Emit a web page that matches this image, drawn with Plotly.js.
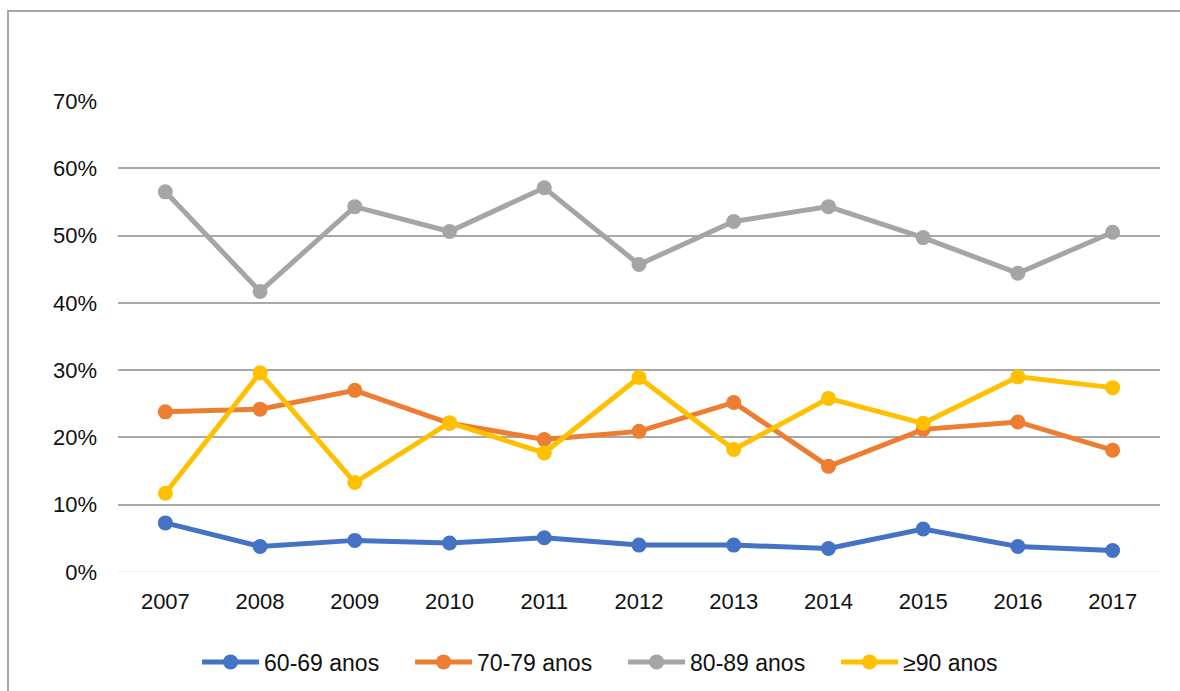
<!DOCTYPE html>
<html>
<head>
<meta charset="utf-8">
<script src="https://cdn.plot.ly/plotly-3.0.1.min.js"></script>
<style>
  html, body { margin: 0; padding: 0; background: #ffffff; }
  #wrap { position: relative; width: 1180px; height: 691px; overflow: hidden; }
  #frame { position: absolute; left: 7px; top: 10px; width: 1200px; height: 700px;
           border-left: 2px solid #a6a6a6; border-top: 2px solid #a6a6a6; pointer-events: none; }
  #chart { position: absolute; left: 0; top: 0; width: 1180px; height: 691px; }
</style>
</head>
<body>
<div id="wrap">
  <div id="chart"></div>
  <div id="frame"></div>
</div>
<script>
// Years on the category axis
const years = ['2007', '2008', '2009', '2010', '2011', '2012', '2013', '2014', '2015', '2016', '2017'];

// Share by age group (fraction of total)
const grp6069 = [0.073, 0.038, 0.047, 0.043, 0.051, 0.040, 0.040, 0.035, 0.064, 0.038, 0.032];
const grp7079 = [0.238, 0.242, 0.270, 0.221, 0.197, 0.209, 0.252, 0.157, 0.212, 0.223, 0.181];
const grp8089 = [0.565, 0.417, 0.543, 0.506, 0.571, 0.457, 0.521, 0.543, 0.497, 0.444, 0.505];
const grp90 =   [0.117, 0.296, 0.133, 0.222, 0.177, 0.289, 0.182, 0.258, 0.221, 0.290, 0.274];

const names = ['60-69 anos', '70-79 anos', '80-89 anos', '≥90 anos'];
const colors = ['#4472C4', '#ED7D31', '#A5A5A5', '#FFC000'];
const series = [grp6069, grp7079, grp8089, grp90];

const traces = series.map((vals, i) => ({
  type: 'scatter',
  mode: 'lines+markers',
  name: names[i],
  x: years,
  y: vals,
  line: { color: colors[i], width: 5 },
  marker: { color: colors[i], size: 15 },
  hoverinfo: 'x+y+name'
}));

const layout = {
  width: 1180,
  height: 691,
  margin: { l: 118, r: 20, t: 101, b: 119, autoexpand: false },
  paper_bgcolor: '#ffffff',
  plot_bgcolor: '#ffffff',
  font: { family: 'Liberation Sans, Arial, sans-serif', size: 22, color: '#111111' },
  showlegend: true,
  legend: {
    orientation: 'h',
    xref: 'container', yref: 'container',
    x: 0.167, xanchor: 'left',
    y: 0.042, yanchor: 'middle',
    font: { size: 23, color: '#111111' },
    itemwidth: 57,
    entrywidth: 141,
    entrywidthmode: 'pixels',
    traceorder: 'normal'
  },
  xaxis: {
    type: 'category',
    range: [-0.5, 10.5],
    showgrid: false,
    zeroline: false,
    showline: false,
    ticks: '',
    ticklen: 0,
    ticklabelstandoff: 14,
    tickfont: { size: 22 },
    fixedrange: true
  },
  yaxis: {
    range: [0, 0.7],
    tickvals: [0, 0.1, 0.2, 0.3, 0.4, 0.5, 0.6, 0.7],
    tickformat: '.0%',
    showgrid: true,
    gridcolor: '#a8a8a8',
    gridwidth: 2,
    zeroline: false,
    showline: false,
    ticks: '',
    ticklabelstandoff: 20,
    tickfont: { size: 22 },
    fixedrange: true
  },
  shapes: [{
    type: 'line', xref: 'paper', yref: 'y',
    x0: 0, x1: 1, y0: 0, y1: 0,
    line: { color: '#f0f0f0', width: 2 },
    layer: 'below'
  }]
};

Plotly.newPlot('chart', traces, layout, { displayModeBar: false, staticPlot: true });
</script>
</body>
</html>
